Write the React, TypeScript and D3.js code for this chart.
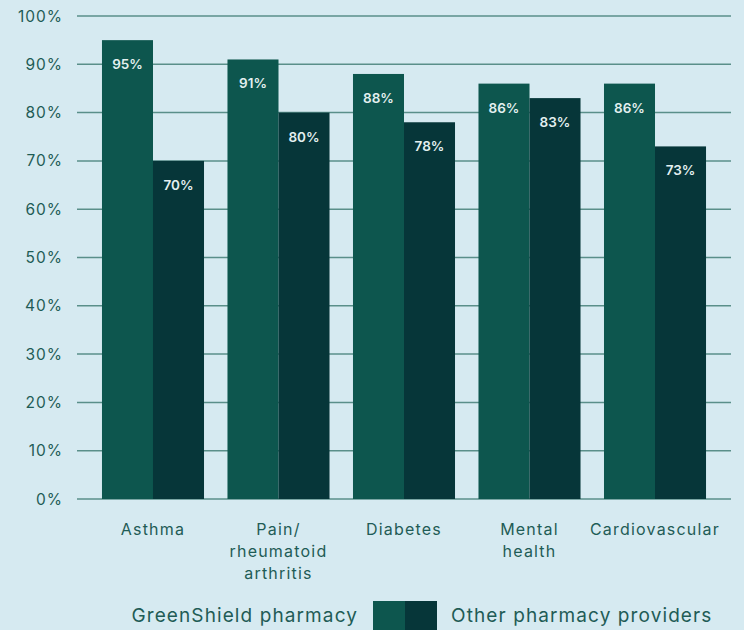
import * as d3 from "d3";
import React, { useEffect, useRef } from "react";

// chart data
const categories = [
  ["Asthma"],
  ["Pain/", "rheumatoid", "arthritis"],
  ["Diabetes"],
  ["Mental", "health"],
  ["Cardiovascular"],
];
const greenShield = [95, 91, 88, 86, 86];
const otherProviders = [70, 80, 78, 83, 73];
const seriesNames = ["GreenShield pharmacy", "Other pharmacy providers"];
const yTicks = [0, 10, 20, 30, 40, 50, 60, 70, 80, 90, 100];

const W = 744;
const H = 630;
const BG = "#d6eaf1";
const GREEN = "#0d564e";
const DARK = "#063639";
const TEXT = "#1f5c56";
const GRID = "#5a8f8a";
const FONT = "Inter, 'Open Sans', sans-serif";

const App: React.FC = () => {
  const svgRef = useRef<SVGSVGElement | null>(null);

  useEffect(() => {
    document.body.style.margin = "0";
    document.body.style.overflow = "hidden";
    const svg = d3.select(svgRef.current).attr("width", W).attr("height", H);
    svg.selectAll("*").remove();

    svg.append("rect").attr("width", W).attr("height", H).attr("fill", BG);

    const y = d3.scaleLinear().domain([0, 100]).range([499, 16]);
    const x = d3
      .scaleBand<number>()
      .domain(categories.map((_, i) => i))
      .range([77, 731])
      .paddingInner(0.187)
      .paddingOuter(0.199);
    const sub = d3.scaleBand<number>().domain([0, 1]).range([0, x.bandwidth()]);

    // grid lines
    svg
      .append("g")
      .selectAll("line")
      .data(yTicks)
      .enter()
      .append("line")
      .attr("x1", 77)
      .attr("x2", 731)
      .attr("y1", (d) => y(d))
      .attr("y2", (d) => y(d))
      .attr("stroke", GRID)
      .attr("stroke-width", 1.5);

    // y labels
    svg
      .append("g")
      .selectAll("text")
      .data(yTicks)
      .enter()
      .append("text")
      .attr("x", 63)
      .attr("y", (d) => y(d))
      .attr("dy", "0.36em")
      .attr("text-anchor", "end")
      .attr("fill", TEXT)
      .style("font-family", FONT)
      .style("font-size", "15.5px")
      .style("letter-spacing", "1px")
      .text((d) => `${d}%`);

    const bars = categories.flatMap((_, i) => [
      { i, s: 0, v: greenShield[i] },
      { i, s: 1, v: otherProviders[i] },
    ]);

    svg
      .append("g")
      .selectAll("rect")
      .data(bars)
      .enter()
      .append("rect")
      .attr("x", (d) => (x(d.i) as number) + (sub(d.s) as number))
      .attr("y", (d) => y(d.v))
      .attr("width", sub.bandwidth())
      .attr("height", (d) => y(0) - y(d.v))
      .attr("fill", (d) => (d.s === 0 ? GREEN : DARK));

    svg
      .append("g")
      .selectAll("text")
      .data(bars)
      .enter()
      .append("text")
      .attr("x", (d) => (x(d.i) as number) + (sub(d.s) as number) + sub.bandwidth() / 2)
      .attr("y", (d) => y(d.v) + 29)
      .attr("text-anchor", "middle")
      .attr("fill", "#e3f0f0")
      .style("font-family", FONT)
      .style("font-size", "13.5px")
      .style("font-weight", 600)
      .text((d) => `${d.v}%`);

    // category labels
    const cat = svg
      .append("g")
      .selectAll("text")
      .data(categories)
      .enter()
      .append("text")
      .attr("x", (_, i) => (x(i) as number) + x.bandwidth() / 2)
      .attr("y", 535)
      .attr("text-anchor", "middle")
      .attr("fill", TEXT)
      .style("font-family", FONT)
      .style("font-size", "16px")
      .style("letter-spacing", "1.2px");
    cat
      .selectAll("tspan")
      .data((d) => d)
      .enter()
      .append("tspan")
      .attr("x", function () {
        return (this.parentNode as SVGTextElement).getAttribute("x");
      })
      .attr("dy", (_, j) => (j === 0 ? 0 : 22))
      .text((d) => d);

    // legend
    const legend = svg.append("g");
    legend
      .append("rect")
      .attr("x", 373)
      .attr("y", 601)
      .attr("width", 32)
      .attr("height", 30)
      .attr("fill", GREEN);
    legend
      .append("rect")
      .attr("x", 405)
      .attr("y", 601)
      .attr("width", 32)
      .attr("height", 30)
      .attr("fill", DARK);
    legend
      .append("text")
      .attr("x", 358)
      .attr("y", 622)
      .attr("text-anchor", "end")
      .attr("fill", TEXT)
      .style("font-family", FONT)
      .style("font-size", "19px")
      .style("letter-spacing", "1.1px")
      .text(seriesNames[0]);
    legend
      .append("text")
      .attr("x", 451)
      .attr("y", 622)
      .attr("fill", TEXT)
      .style("font-family", FONT)
      .style("font-size", "19px")
      .style("letter-spacing", "1.1px")
      .text(seriesNames[1]);
  }, []);

  return <svg ref={svgRef} style={{ display: "block" }}></svg>;
};

export default App;
